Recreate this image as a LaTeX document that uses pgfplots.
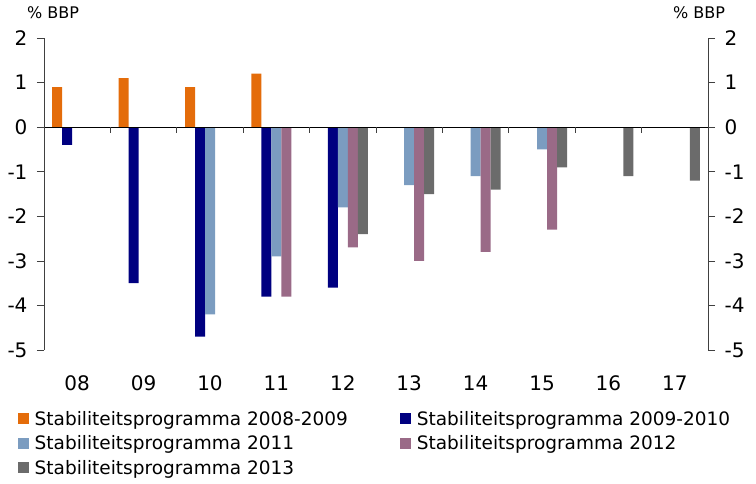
\documentclass[border=0pt]{standalone}
\usepackage{pgfplots}
\pgfplotsset{compat=1.18}
\usepackage{fontspec}
\setmainfont{DejaVu Sans}
\definecolor{cOr}{HTML}{E46C0A}
\definecolor{cNv}{HTML}{000080}
\definecolor{cLb}{HTML}{7B9CC0}
\definecolor{cPu}{HTML}{9A6A87}
\definecolor{cGr}{HTML}{6B6B6B}
\begin{document}
\begin{tikzpicture}
\useasboundingbox (0,0) rectangle (756pt,483pt);
\begin{axis}[
  at={(44pt,133pt)}, anchor=south west, scale only axis,
  width=664pt, height=312pt,
  xmin=-0.5, xmax=9.5, ymin=-5, ymax=2,
  ybar=0pt, bar width=10pt,
  axis x line*=bottom, axis y line*=left,
  x axis line style={draw=none},
  y axis line style={-, black!75, line width=0.7pt},
  xtick={0,...,9},
  xticklabels={08,09,10,11,12,13,14,15,16,17},
  major x tick style={draw=none},
  ytick={-5,-4,-3,-2,-1,0,1,2},
  tick align=outside, major tick length=7pt,
  major y tick style={black!75, line width=0.7pt},
  /pgf/number format/assume math mode=true,
  ticklabel style={font=\fontsize{20}{24}\selectfont},
  xticklabel style={yshift=-15pt},
  yticklabel style={xshift=-6pt},
  legend columns=2,
  legend cell align=left,
  legend style={draw=none, fill=none, at={(-0.0437,-0.186)}, anchor=north west,
    font=\fontsize{18.5}{22}\selectfont,
    nodes={inner sep=1.5pt, text height=13.5pt, text depth=4pt},
    row sep=4pt,
    /tikz/every odd column/.append style={column sep=4pt},
    /tikz/every even column/.append style={column sep=51pt}},
  legend image code/.code={\draw[#1, draw=none] (0pt,-4pt) rectangle (11pt,7pt);},
  clip=false,
]
\addplot[fill=cOr, draw=none] coordinates {(0,0.9) (1,1.1) (2,0.9) (3,1.2)};
\addlegendentry{Stabiliteitsprogramma 2008-2009}
\addplot[fill=cNv, draw=none] coordinates {(0,-0.4) (1,-3.5) (2,-4.7) (3,-3.8) (4,-3.6)};
\addlegendentry{Stabiliteitsprogramma 2009-2010}
\addplot[fill=cLb, draw=none] coordinates {(2,-4.2) (3,-2.9) (4,-1.8) (5,-1.3) (6,-1.1) (7,-0.5)};
\addlegendentry{Stabiliteitsprogramma 2011}
\addplot[fill=cPu, draw=none] coordinates {(3,-3.8) (4,-2.7) (5,-3.0) (6,-2.8) (7,-2.3)};
\addlegendentry{Stabiliteitsprogramma 2012}
\addplot[fill=cGr, draw=none] coordinates {(4,-2.4) (5,-1.5) (6,-1.4) (7,-0.9) (8,-1.1) (9,-1.2)};
\addlegendentry{Stabiliteitsprogramma 2013}
\draw[black, line width=0.8pt] (axis cs:-0.5,0) -- (axis cs:9.5,0);
\pgfplotsinvokeforeach{-0.5,0.5,1.5,2.5,3.5,4.5,5.5,6.5,7.5,8.5,9.5}{
  \draw[black!75, line width=0.7pt] (axis cs:#1,0) -- ([yshift=-6pt]axis cs:#1,0);
}
\end{axis}
\begin{axis}[
  at={(44pt,133pt)}, anchor=south west, scale only axis,
  width=664pt, height=312pt,
  xmin=-0.5, xmax=9.5, ymin=-5, ymax=2,
  axis y line*=right, hide x axis,
  y axis line style={-, black!75, line width=0.7pt},
  ytick={-5,-4,-3,-2,-1,0,1,2},
  tick align=outside, major tick length=7pt,
  major y tick style={black!75, line width=0.7pt},
  /pgf/number format/assume math mode=true,
  ticklabel style={font=\fontsize{20}{24}\selectfont},
  yticklabel style={xshift=6pt},
]
\end{axis}
\node[anchor=center, font=\fontsize{16}{18}\selectfont] at (53pt,470pt) {\% BBP};
\node[anchor=center, font=\fontsize{16}{18}\selectfont] at (699pt,470pt) {\% BBP};
\end{tikzpicture}
\end{document}
